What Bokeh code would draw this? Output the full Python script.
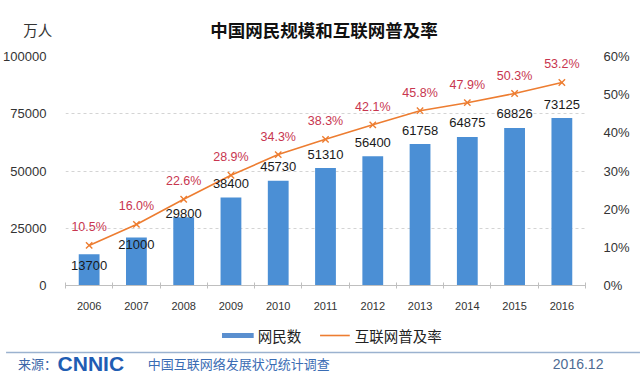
from bokeh.plotting import figure
from bokeh.models import (ColumnDataSource, LinearAxis, Range1d,
                          NumeralTickFormatter, PrintfTickFormatter, FixedTicker)
from bokeh.embed import file_html
from bokeh.resources import INLINE
from bokeh.core.properties import value

# ---------------- data ----------------
years = ["2006", "2007", "2008", "2009", "2010", "2011", "2012", "2013", "2014", "2015", "2016"]
users = [13700, 21000, 29800, 38400, 45730, 51310, 56400, 61758, 64875, 68826, 73125]   # 万人
rate = [10.5, 16.0, 22.6, 28.9, 34.3, 38.3, 42.1, 45.8, 47.9, 50.3, 53.2]              # %
left_ticks = [0, 25000, 50000, 75000, 100000]
right_ticks = [0, 10, 20, 30, 40, 50, 60]

title_text = "中国网民规模和互联网普及率"
unit_text = "万人"
bar_name = "网民数"
line_name = "互联网普及率"
source_prefix = "来源："
source_logo = "CNNIC"
source_text = "中国互联网络发展状况统计调查"
date_text = "2016.12"

# ---------------- style / layout ----------------
BAR = "#4b8fd5"
ORANGE = "#ed7d31"
RED = "#c8364f"
LATIN = "Liberation Sans, Noto Sans CJK SC"
CJK = "Noto Sans CJK SC"
value_label_dy = [11, 7, -4, -14, -14, -14, -14, -14, -14, -14, -14]  # px placement of value labels

W, H = 640, 376
FL, FR, FT, FB = 60, 585, 56, 285   # plot frame edges in page pixels

# category slots: one unit per year, centred on i + 0.5
xpos = [i + 0.5 for i in range(len(years))]
bounds = list(range(len(years) + 1))

src = ColumnDataSource(dict(
    x=xpos, users=users, rate=rate,
    users_txt=[str(u) for u in users],
    rate_txt=["%.1f%%" % r for r in rate],
    dy=value_label_dy,
))

p = figure(x_range=Range1d(0, len(years)), y_range=Range1d(0, 100000),
           width=W, height=H, output_backend="svg", toolbar_location=None,
           min_border_left=FL, min_border_right=W - FR, min_border_top=FT, min_border_bottom=H - FB,
           outline_line_color=None, background_fill_color="white", border_fill_color="white")
p.extra_y_ranges = {"pct": Range1d(0, 60), "px": Range1d(H - FB, H - FT)}
p.extra_x_ranges = {"px": Range1d(FL, FR)}

p.xgrid.grid_line_color = None
p.ygrid.ticker = FixedTicker(ticks=left_ticks)
p.ygrid.grid_line_color = "#d4d4d4"
p.ygrid.grid_line_dash = "3 3"

p.yaxis.ticker = FixedTicker(ticks=left_ticks)
p.yaxis.formatter = NumeralTickFormatter(format="0")
p.yaxis.axis_line_color = None
p.yaxis.major_tick_line_color = None
p.yaxis.minor_tick_line_color = None
p.yaxis.major_label_standoff = 13
p.yaxis.major_label_text_font = LATIN
p.yaxis.major_label_text_font_size = "13px"
p.yaxis.major_label_text_color = "#333333"

ra = LinearAxis(y_range_name="pct", ticker=FixedTicker(ticks=right_ticks),
                formatter=PrintfTickFormatter(format="%d%%"))
ra.axis_line_color = None
ra.major_tick_line_color = None
ra.minor_tick_line_color = None
ra.major_label_standoff = 12
ra.major_label_text_font = LATIN
ra.major_label_text_font_size = "13px"
ra.major_label_text_color = "#333333"
p.add_layout(ra, "right")

# category axis: labels at slot centres, small ticks at slot boundaries
p.xaxis.ticker = FixedTicker(ticks=xpos, minor_ticks=bounds)
p.xaxis.major_label_overrides = {x: y for x, y in zip(xpos, years)}
p.xaxis.axis_line_color = "#bfbfbf"
p.xaxis.axis_line_width = 1
p.xaxis.major_tick_line_color = None
p.xaxis.minor_tick_line_color = "#bfbfbf"
p.xaxis.minor_tick_in = 3
p.xaxis.minor_tick_out = 3
p.xaxis.major_label_standoff = 10
p.xaxis.major_label_text_font = LATIN
p.xaxis.major_label_text_font_size = "11px"
p.xaxis.major_label_text_color = "#333333"

bars = p.vbar(x="x", top="users", width=0.44, source=src, fill_color=BAR, line_color=None)
ln = p.line(x="x", y="rate", y_range_name="pct", source=src, line_color=ORANGE, line_width=1.6)
pts = p.scatter(x="x", y="rate", y_range_name="pct", source=src, marker="x", size=9,
                line_color=ORANGE, line_width=1.4)

p.text(x="x", y="users", text="users_txt", source=src, y_offset="dy",
       text_align="center", text_baseline="middle", text_font=value(LATIN),
       text_font_size="13px", text_color="#1a1a1a")
p.text(x="x", y="rate", text="rate_txt", source=src, y_range_name="pct", y_offset=-18,
       text_align="center", text_baseline="middle", text_font=value(LATIN),
       text_font_size="12.5px", text_color=RED)


# ---------------- header / legend / footer (page-pixel coordinates, drawn unclipped) ----------------
def page_text(x, y, txt, font, size, color, style="normal", align="left"):
    p.text(x=[x], y=[H - y], text=[txt], x_range_name="px", y_range_name="px", level="overlay",
           text_align=align, text_baseline="middle", text_font=value(font),
           text_font_size=size, text_font_style=style, text_color=color)


def page_rule(x0, x1, y, color, width):
    p.segment(x0=[x0], x1=[x1], y0=[H - y], y1=[H - y], x_range_name="px", y_range_name="px",
              level="overlay", line_color=color, line_width=width)


# header
page_text(321, 29, title_text, CJK, "17.5px", "#111111", style="bold", align="center")
page_text(32, 29, unit_text, CJK, "14.5px", "#333333", align="center")

# legend
page_rule(218, 250, 335, "#5a8fcf", 5)
page_text(254, 335, bar_name, CJK, "14.5px", "#222222")
page_rule(317, 347, 335, ORANGE, 1.6)
p.scatter(x=[332], y=[H - 335], x_range_name="px", y_range_name="px", level="overlay",
          marker="x", size=8, line_color=ORANGE, line_width=1.4)
page_text(352, 335, line_name, CJK, "14.5px", "#222222")

# footer
page_rule(0, W, 352, "#9bb2cf", 1.5)
page_text(12, 363, source_prefix, CJK, "13px", "#3b66a8")
page_text(52, 363, source_logo, "Liberation Sans", "21px", "#1f5db3", style="bold")
page_text(143, 363, source_text, CJK, "13px", "#3a6cb4")
page_text(552, 363, date_text, LATIN, "14px", "#4e6b94")

open("out.html", "w").write(file_html(p, INLINE))
